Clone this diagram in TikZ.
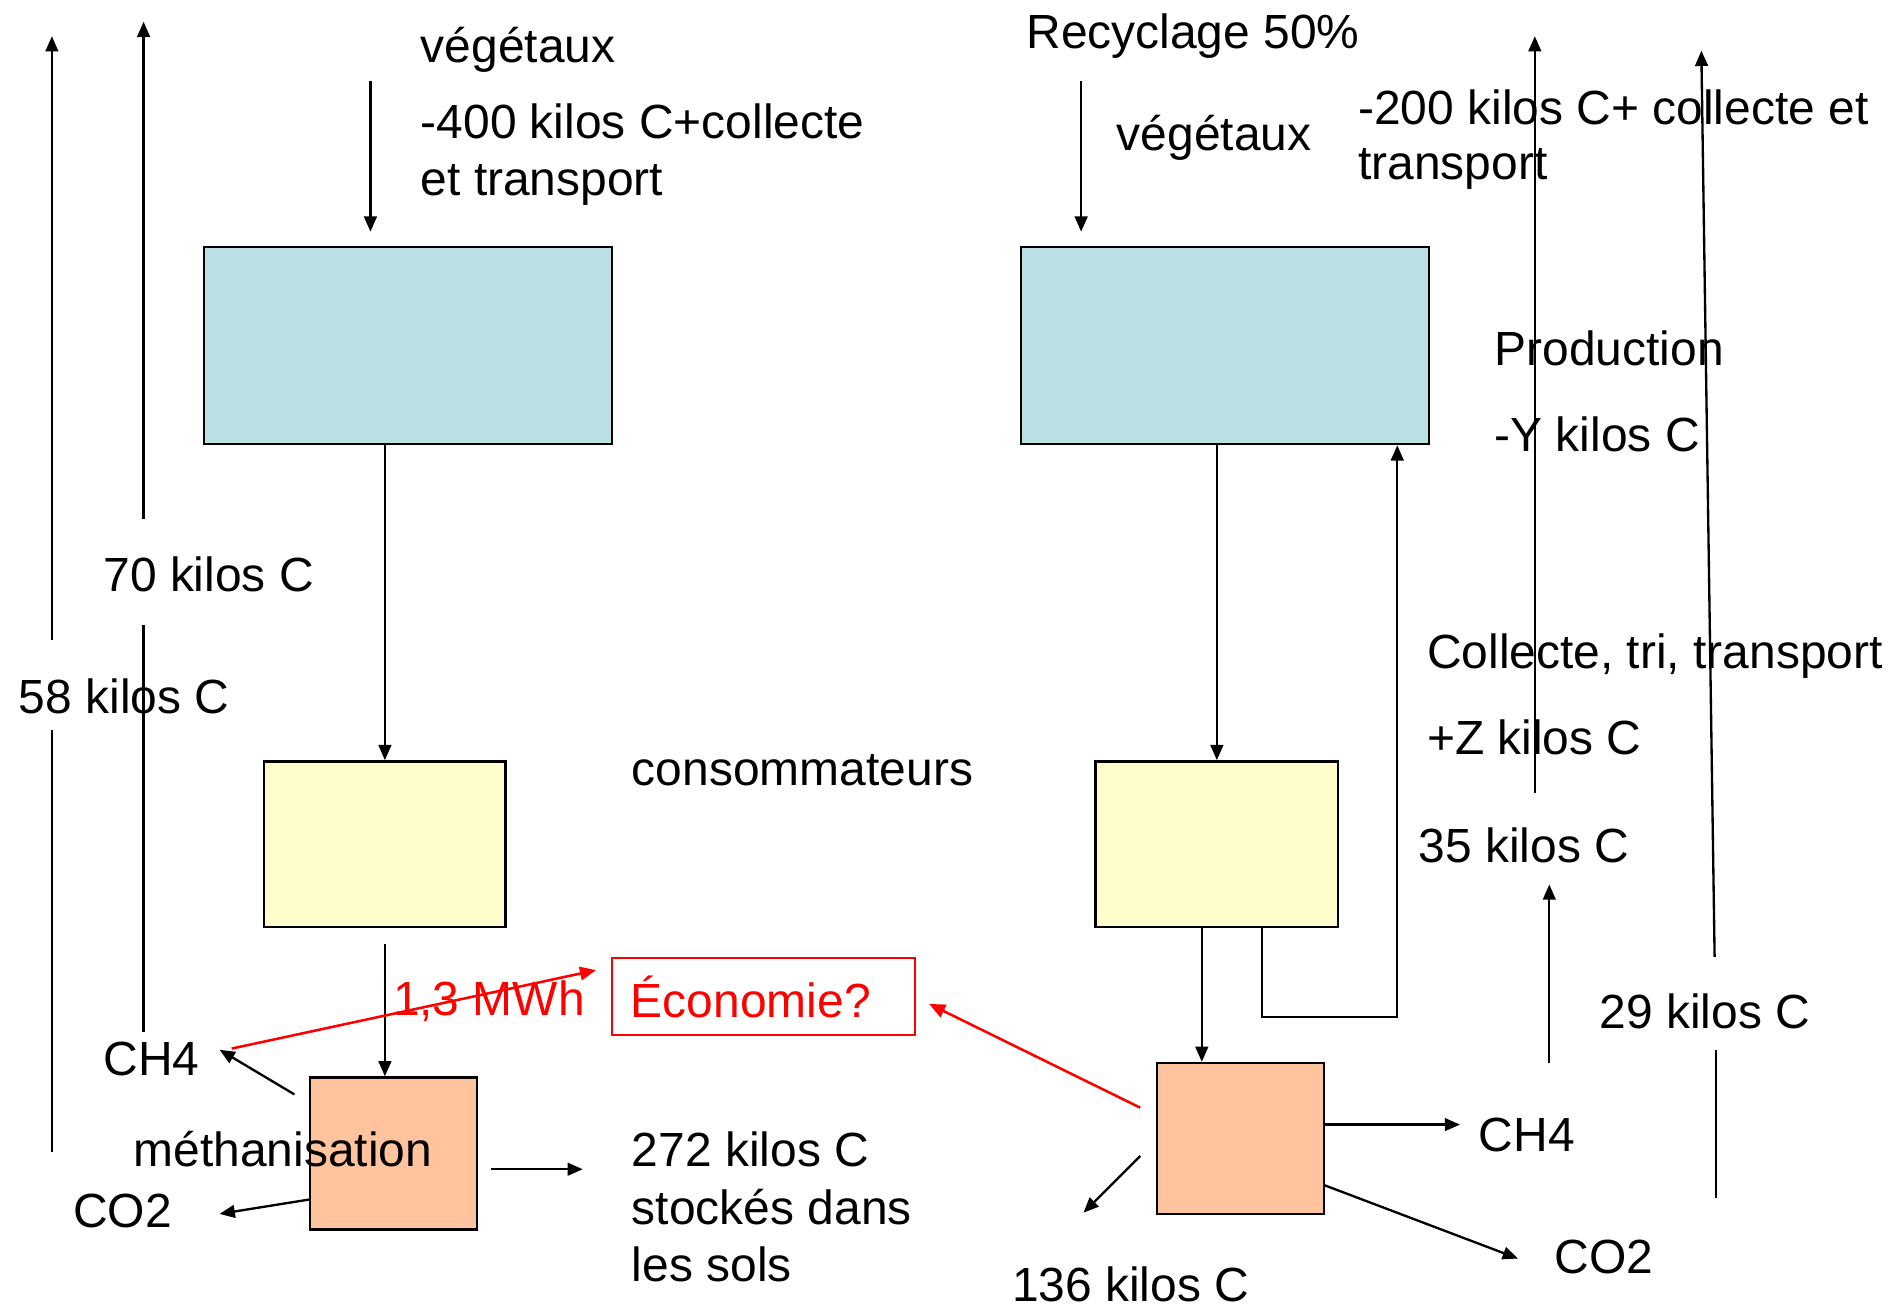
\documentclass[tikz,border=0pt]{standalone}
\usepackage{fontspec}
\setmainfont{Liberation Sans}
\usetikzlibrary{arrows.meta}
\definecolor{boxblue}{RGB}{185,224,227}
\definecolor{boxyellow}{RGB}{255,253,204}
\definecolor{boxorange}{RGB}{255,195,158}
\definecolor{pptred}{RGB}{255,0,0}
\begin{document}
\begin{tikzpicture}[x=0.01cm,y=-0.01cm,
  lbl/.style={anchor=base west,inner sep=0pt,font=\fontsize{11.3}{13.4}\selectfont},
  redlbl/.style={lbl,text=pptred},
  flow/.style={draw=black,line width=0.55pt},
  arr/.style={flow,-{Triangle[length=3.6pt,width=3pt]}},
  redarr/.style={draw=pptred,line width=0.6pt,-{Triangle[length=3.8pt,width=3.2pt]}},
  blk/.style={draw=black,line width=0.55pt,inner sep=0pt}]
\useasboundingbox (0,0) rectangle (1568,1087);

% ---------- boxes ----------
\node[blk,fill=boxblue,minimum width=3.38cm,minimum height=1.63cm] (blue1) at (338,286.5) {};
\node[blk,fill=boxyellow,minimum width=2.00cm,minimum height=1.37cm] (yellow1) at (319,699.5) {};
\node[blk,fill=boxorange,minimum width=1.38cm,minimum height=1.26cm] (orange1) at (326,956) {};
\node[blk,fill=boxblue,minimum width=3.38cm,minimum height=1.63cm] (blue2) at (1015,286.5) {};
\node[blk,fill=boxyellow,minimum width=2.01cm,minimum height=1.37cm] (yellow2) at (1008.5,699.5) {};
\node[blk,fill=boxorange,minimum width=1.38cm,minimum height=1.25cm] (orange2) at (1028,943.5) {};

% ---------- left texts ----------
\node[lbl] (vegL) at (348,52) {végétaux};
\node[lbl] (q400a) at (348,115) {-400 kilos C+collecte};
\node[lbl] (q400b) at (348,162) {et transport};
\node[lbl] (t70) at (85,490) {70 kilos C};
\node[lbl] (t58) at (15,591) {58 kilos C};
\node[lbl] (cons) at (523,651) {consommateurs};
\node[lbl] (ch4L) at (85,891) {CH4};
\node[lbl] (meth) at (110,967) {méthanisation};
\node[lbl] (co2L) at (60,1017) {CO2};
\node[lbl] (s272a) at (523,967) {272 kilos C};
\node[lbl] (s272b) at (523,1015) {stockés dans};
\node[lbl] (s272c) at (523,1062) {les sols};

% ---------- right texts ----------
\node[lbl] (recy) at (850,40) {Recyclage 50\%};
\node[lbl] (vegR) at (925,125) {végétaux};
\node[lbl] (q200a) at (1125,103) {-200 kilos C+ collecte et};
\node[lbl] (q200b) at (1125,149) {transport};
\node[lbl] (prod) at (1238,303) {Production};
\node[lbl] (ykg) at (1238,374) {-Y kilos C};
\node[lbl] (coll) at (1182,554) {Collecte, tri, transport};
\node[lbl] (zkg) at (1182,625) {+Z kilos C};
\node[lbl] (t35) at (1175,715) {35 kilos C};
\node[lbl] (t29) at (1325,852) {29 kilos C};
\node[lbl] (ch4R) at (1225,954) {CH4};
\node[lbl] (co2R) at (1288,1055) {CO2};
\node[lbl] (t136) at (838,1079) {136 kilos C};

% ---------- left long arrows ----------
\coordinate (a1) at (43,955); \coordinate (a2) at (43,605);
\coordinate (a3) at (43,530); \coordinate (a4) at (43,30);
\draw[flow] (a1) -- (a2);
\draw[arr] (a3) -- (a4);
\coordinate (b1) at (119,855); \coordinate (b2) at (119,518);
\coordinate (b3) at (119,430); \coordinate (b4) at (119,18);
\draw[flow] (b1) -- (b2);
\draw[arr] (b3) -- (b4);

% ---------- left flow ----------
\coordinate (inL) at (307,67); \coordinate (inLt) at (307,192);
\draw[arr] (inL) -- (inLt);
\draw[arr] (blue1.south -| yellow1.north) -- (yellow1.north);
\coordinate (y1o) at (319,782);
\draw[arr] (y1o) -- (y1o |- orange1.north);
\coordinate (m1) at (244,907); \coordinate (m1t) at (182,870);
\draw[arr] (m1) -- (m1t);
\coordinate (m2) at (257,994); \coordinate (m2t) at (182,1006);
\draw[arr] (m2) -- (m2t);
\coordinate (m3) at (407,969); \coordinate (m3t) at (483,969);
\draw[arr] (m3) -- (m3t);

% ---------- right flow ----------
\coordinate (inR) at (896,67); \coordinate (inRt) at (896,192);
\draw[arr] (inR) -- (inRt);
\draw[arr] (blue2.south -| yellow2.north) -- (yellow2.north);
\coordinate (y2o) at (996,768);
\draw[arr] (y2o) -- (y2o |- orange2.north);
\coordinate (lp1) at (1046,843); \coordinate (lp2) at (1158,843);
\draw[arr] (yellow2.south -| lp1) -- (lp1) -- (lp2) -- (lp2 |- blue2.south);
\coordinate (n1) at (1097,932); \coordinate (n1t) at (1210,932);
\draw[arr] (n1) -- (n1t);
\coordinate (n2) at (1097,982); \coordinate (n2t) at (1258,1043);
\draw[arr] (n2) -- (n2t);
\coordinate (n3) at (945,958); \coordinate (n3t) at (898,1005);
\draw[arr] (n3) -- (n3t);

% ---------- right long arrows ----------
\coordinate (c1) at (1284,881); \coordinate (c2) at (1284,733);
\coordinate (c3) at (1272,657); \coordinate (c4) at (1272,30);
\draw[arr] (c1) -- (c2);
\draw[arr] (c3) -- (c4);
\coordinate (d1) at (1422,993); \coordinate (d2) at (1422,870);
\coordinate (d3) at (1421,793); \coordinate (d4) at (1410,42);
\draw[flow] (d1) -- (d2);
\draw[arr] (d3) -- (d4);

% ---------- red ----------
\node[redlbl] (mwh) at (325,842) {1,3 MWh};
\node[draw=pptred,line width=0.5pt,text=pptred,font=\fontsize{11.3}{13.4}\selectfont,
      text width=2.19cm,align=left,inner xsep=0.16cm,inner ysep=0pt,minimum height=0.64cm] (eco) at (632.5,826) {Économie?};
\coordinate (r1) at (192,869); \coordinate (r2) at (494,804);
\draw[redarr] (r1) -- (r2);
\coordinate (r3) at (945,918); \coordinate (r4) at (770,832);
\draw[redarr] (r3) -- (r4);
\end{tikzpicture}
\end{document}
